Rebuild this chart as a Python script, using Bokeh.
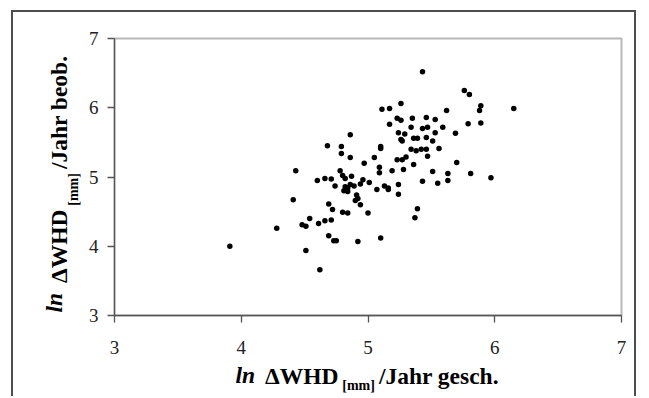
from bokeh.plotting import figure
from bokeh.models import Title, FixedTicker
from bokeh.embed import file_html
from bokeh.resources import INLINE

# ln dWHD/Jahr geschaetzt (x) and beobachtet (y)
x_gesch = [3.91, 4.28, 4.41, 4.43, 4.48, 4.51, 4.51, 4.54, 4.60, 4.61, 4.62, 4.66, 4.71,
           4.69, 4.72, 4.69, 4.73, 4.75, 4.80, 4.84, 4.92, 5.00, 4.91, 4.92, 4.90, 4.94,
           4.66, 4.71, 4.74, 4.78, 4.80, 4.82, 4.87, 4.82, 4.84, 4.86, 4.89, 4.81, 4.84,
           4.96, 4.94, 5.01,
           4.68, 4.79, 4.79, 4.86, 4.86, 4.97,
           5.05, 5.09, 5.09, 5.10, 5.10, 5.07, 5.13, 5.16, 5.16, 5.24, 5.24, 5.19, 5.28,
           5.36, 5.10, 5.39, 5.37, 5.43, 5.55, 5.51, 5.63, 5.63, 5.81, 5.97, 5.70,
           5.11, 5.17, 5.17, 5.23, 5.26, 5.26, 5.35, 5.46, 5.53, 5.34, 5.43, 5.47, 5.59,
           5.24, 5.29, 5.53, 5.69, 5.26, 5.27, 5.36, 5.39, 5.46, 5.51, 5.34, 5.38, 5.42,
           5.46, 5.56, 5.23, 5.27, 5.30, 5.47, 5.62, 5.43, 5.76, 5.80, 5.89, 5.88, 5.89,
           5.79, 6.15]
y_beob = [4.00, 4.26, 4.67, 5.09, 4.31, 4.29, 3.94, 4.40, 4.95, 4.33, 3.66, 4.37, 4.38,
          4.61, 4.53, 4.15, 4.08, 4.08, 4.49, 4.48, 4.07, 4.48, 4.74, 4.69, 4.66, 4.60,
          4.98, 4.97, 4.87, 5.09, 5.02, 4.98, 5.01, 4.86, 4.84, 4.89, 4.87, 4.80, 4.79,
          4.96, 4.90, 4.92,
          5.45, 5.44, 5.34, 5.61, 5.28, 5.20,
          5.28, 5.14, 5.06, 5.44, 5.41, 4.82, 4.87, 4.84, 4.82, 4.89, 4.75, 5.09, 5.11,
          5.18, 4.12, 4.54, 4.41, 4.94, 4.91, 5.08, 5.05, 4.95, 5.05, 4.99, 5.21,
          5.98, 5.99, 5.76, 5.85, 5.82, 6.06, 5.85, 5.86, 5.83, 5.72, 5.70, 5.72, 5.72,
          5.64, 5.62, 5.64, 5.63, 5.54, 5.52, 5.56, 5.56, 5.57, 5.52, 5.40, 5.38, 5.40,
          5.40, 5.41, 5.25, 5.25, 5.29, 5.30, 5.96, 6.52, 6.25, 6.19, 6.03, 5.96, 5.78,
          5.77, 5.99]

ticks = [3, 4, 5, 6, 7]
x_title = ["ln", "ΔWHD", "[mm]", "/Jahr gesch."]
y_title = ["ln", "ΔWHD", "[mm]", "/Jahr beob."]

FONT = "Liberation Serif"
BIG, SMALL = 23.5, 14

p = figure(width=625, height=386, x_range=(3, 7), y_range=(3, 7),
           output_backend="svg", toolbar_location=None,
           min_border_left=101, min_border_right=17, min_border_top=26, min_border_bottom=83)
p.styles = {"margin-left": "11px", "margin-top": "10px",
            "border-left": "2px solid #4d4d4d", "border-top": "2px solid #4d4d4d",
            "border-right": "2px solid #4d4d4d"}

p.grid.visible = False
p.background_fill_color = "white"
p.border_fill_color = "white"
p.outline_line_color = "#b8b8b8"
p.outline_line_width = 2

for ax in (p.xaxis, p.yaxis):
    ax.ticker = FixedTicker(ticks=ticks)
    ax.axis_line_color = "#555555"
    ax.axis_line_width = 1.3
    ax.major_tick_line_color = "#555555"
    ax.major_tick_line_width = 1.3
    ax.major_tick_out = 7
    ax.major_tick_in = 0
    ax.minor_tick_line_color = None
    ax.major_label_text_font = FONT
    ax.major_label_text_font_size = "19px"
    ax.major_label_text_color = "#222222"
p.xaxis.major_label_standoff = 18
p.yaxis.major_label_standoff = 9

p.scatter(x_gesch, y_beob, size=5.5, color="black", line_color=None)

# Times-Bold advance widths (per 1000 em)
W = {"l": 278, "n": 556, " ": 250, "Δ": 612, "W": 1000, "H": 778, "D": 722, "[": 333,
     "m": 833, "]": 333, "/": 278, "J": 500, "a": 500, "h": 556, "r": 444, "g": 500,
     "e": 444, "s": 389, "c": 444, ".": 250, "b": 556, "o": 500}


def tw(s, size):
    return sum(W.get(ch, 500) for ch in s) * size / 1000.0


def box_h(size, bold_italic=False):
    # height Bokeh reserves for a one-line title (bold italic measures taller)
    return 1.11 * size + (15 if bold_italic else 0)


ASC = 0.805   # em-box top -> baseline


def T(text, size, style, align_v, offset, standoff, side):
    t = Title(text=text, text_font=FONT, text_font_size=f"{size}px",
              text_font_style=style, text_color="black", align="left",
              vertical_align=align_v, offset=offset, standoff=standoff)
    p.add_layout(t, side)


def starts(parts, x0):
    ln, delta, sub, rest = parts
    s_ln = x0
    s_delta = s_ln + tw(ln, BIG) + 10
    s_sub = s_delta + tw(delta, BIG) + 4
    s_rest = s_sub + tw(sub, SMALL) + 4
    return s_ln, s_delta, s_sub, s_rest


SUB_DROP = 4

# ---- x title (below) ----
xs = starts(x_title, 235 - 114)
# empty spacer panel between the tick labels and the title line
T(" ", 10, "normal", "top", 0, 21 - 2 - box_h(10), "below")
T(x_title[1], BIG, "bold", "top", xs[1], -box_h(BIG) - 2, "below")
T(x_title[3], BIG, "bold", "top", xs[3], -box_h(BIG) - 2, "below")
w_ln = ASC * BIG + SUB_DROP - ASC * SMALL
T(x_title[0], BIG, "bold italic", "top", xs[0], w_ln - 2 - box_h(BIG, True), "below")
T(x_title[2], SMALL, "bold", "top", xs[2], 0, "below")

# ---- y title (left) ----
# subscript panel next to the axis; "ln" panel sets the outer edge shared by the main line
W_SUB_Y = 26.0
ys = starts(y_title, 3)
T(y_title[2], SMALL, "bold", "middle", ys[2], W_SUB_Y - 2 - box_h(SMALL), "left")
T(y_title[0], BIG, "bold italic", "top", ys[0], -38.7, "left")
T(y_title[1], BIG, "bold", "top", ys[1], -2 - box_h(BIG), "left")
T(y_title[3], BIG, "bold", "top", ys[3], -2 - box_h(BIG), "left")

open("out.html", "w").write(file_html(p, INLINE))
